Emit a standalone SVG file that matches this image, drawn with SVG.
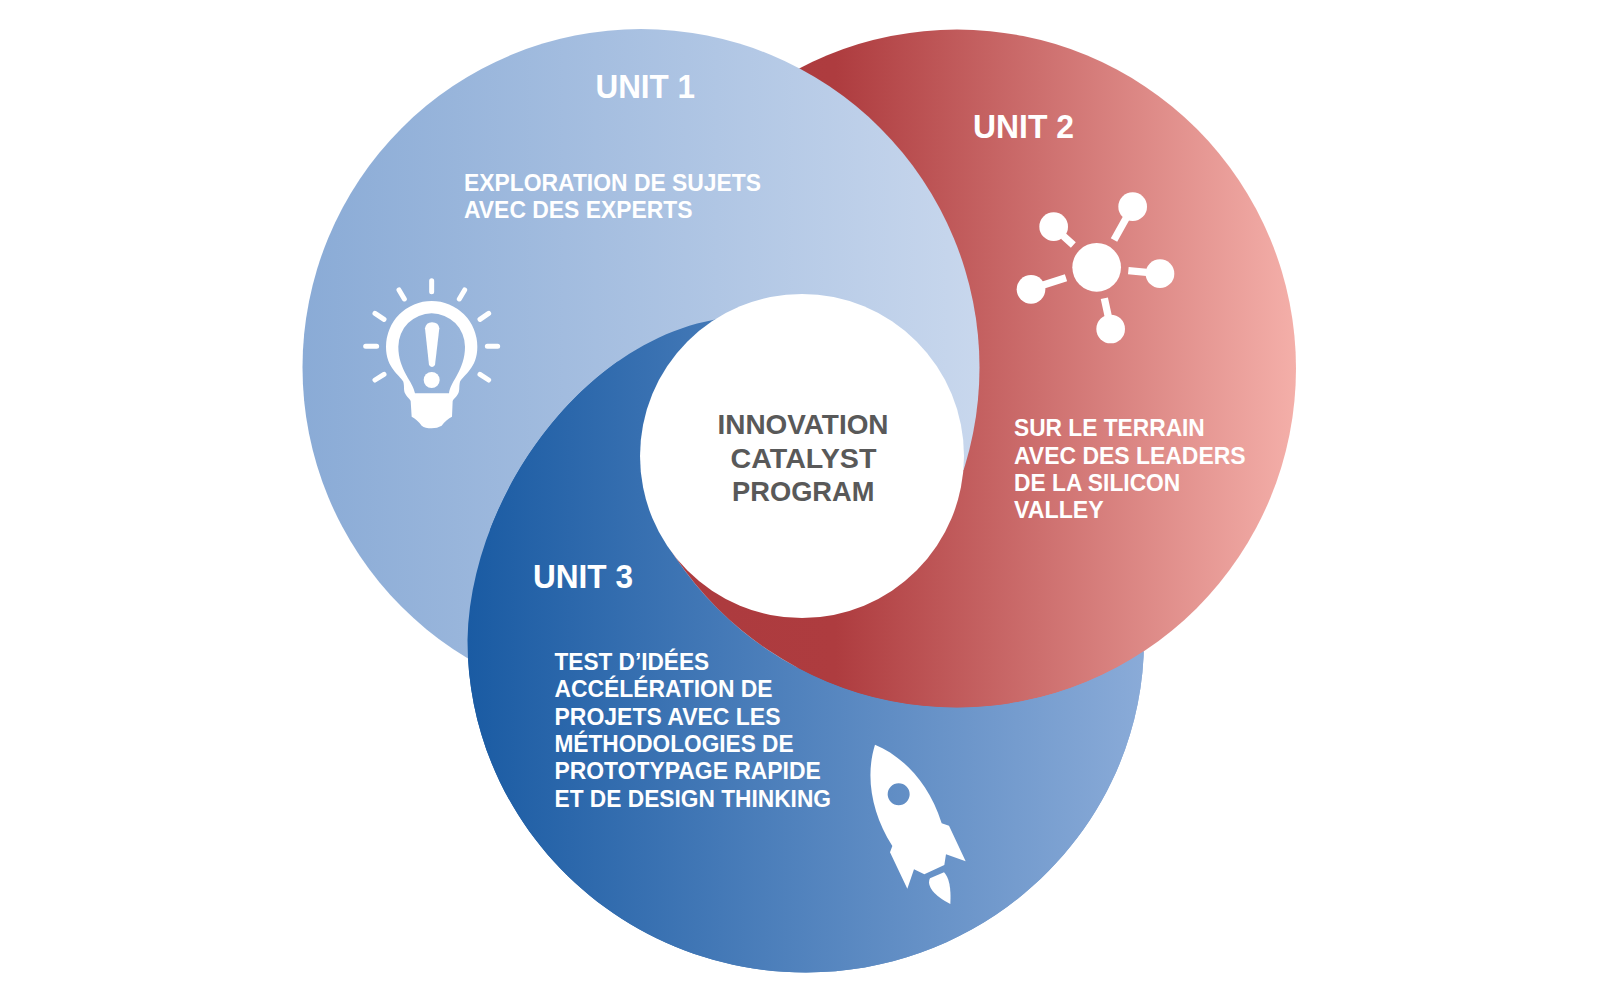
<svg xmlns="http://www.w3.org/2000/svg" width="1600" height="1000" viewBox="0 0 1600 1000">
<style>
text{font-family:"Liberation Sans",Arial,sans-serif;font-weight:700;fill:#fff}
.h{font-size:32.4px}
.b{font-size:23.6px}
.c{font-size:28.3px;fill:#595959}
.ic{fill:#fff}
.ray{stroke:#fff;stroke-width:15;stroke-linecap:round;fill:none}
.lnk{stroke:#fff;stroke-width:22;fill:none}
</style>
<defs>
<linearGradient id="g1" x1="0" x2="1" y1="0" y2="0"><stop offset="0" stop-color="#8aabd6"/><stop offset="1" stop-color="#c8d7ed"/></linearGradient>
<linearGradient id="g2" x1="0" x2="1" y1="0" y2="0"><stop offset="0" stop-color="#ac3a3e"/><stop offset="0.32" stop-color="#ae3c3f"/><stop offset="1" stop-color="#f4afa9"/></linearGradient>
<linearGradient id="g3" x1="0" x2="1" y1="0" y2="0"><stop offset="0" stop-color="#1a5ba3"/><stop offset="1" stop-color="#8aabd8"/></linearGradient>
<circle id="c1" cx="641" cy="367.5" r="338.5" fill="url(#g1)"/>
<circle id="c2" cx="957" cy="368.5" r="339" fill="url(#g2)"/>
<path id="c3" fill="url(#g3)" d="M467.5 640C470 500 580 345 713 320C740 312 775 305 806 305C990 305 1144 460 1144 640C1144 823 992 972.5 806 972.5C619 972.5 467.5 823 467.5 640Z"/>
<clipPath id="outside2"><path clip-rule="evenodd" d="M0 0H1600V1000H0ZM618 368.5a339 339 0 1 0 678 0a339 339 0 1 0 -678 0Z"/></clipPath>
<clipPath id="leftpart"><rect x="0" y="0" width="802" height="530"/></clipPath>
<clipPath id="over2"><path d="M600 530H802V470H1010V730H600Z"/></clipPath>
</defs>
<g id="discs">
<use id="disc3" href="#c3"/>
<use id="disc2" href="#c2"/>
<use id="disc1" href="#c1"/>
<use id="disc3-over" href="#c3" clip-path="url(#outside2)"/>
<use id="disc3-left" href="#c3" clip-path="url(#leftpart)"/>
<use id="disc2-over" href="#c2" clip-path="url(#over2)"/>
</g>
<g id="center">
<circle cx="802" cy="456" r="162" fill="#fff"/>
<text class="c" x="717.5" y="434" textLength="171" lengthAdjust="spacingAndGlyphs">INNOVATION</text>
<text class="c" x="730.5" y="468" textLength="146" lengthAdjust="spacingAndGlyphs">CATALYST</text>
<text class="c" x="732" y="501" textLength="142.5" lengthAdjust="spacingAndGlyphs">PROGRAM</text>
</g>
<g id="unit1">
<text class="h" x="595.5" y="97.5" textLength="99.5" lengthAdjust="spacingAndGlyphs">UNIT 1</text>
<text class="b" x="464" y="191" textLength="297" lengthAdjust="spacingAndGlyphs">EXPLORATION DE SUJETS</text>
<text class="b" x="464" y="218" textLength="228.6" lengthAdjust="spacingAndGlyphs">AVEC DES EXPERTS</text>
<g transform="translate(350 265) scale(.33333)">
<path class="ray" d="M245 47V80M147 75L163 102M75 145L102 163M47 244H80M75 345L102 328M344 75L328 102M416 145L390 163M443 244H412M416 345L390 328"/>
<path class="ic" fill-rule="evenodd" d="M160 350C150 330 108 310 108 245A137 137 0 0 1 382 245C382 310 340 330 330 350C326 368 330 372 325 385C318 398 312 400 308 408L306 455Q290 462 275 482Q262 490 245 490Q225 490 215 482Q200 462 185 455L182 408C178 400 172 398 165 385C160 372 164 368 160 350ZM195 385C190 350 145 315 145 245A100 100 0 0 1 345 245C345 315 300 350 297 385Z"/>
<path class="ic" d="M225 190Q228 172 246 172Q266 172 268 190L255 300Q246 312 237 300Z"/>
<circle class="ic" cx="245" cy="345" r="24"/>
</g>
</g>
<g id="unit2">
<text class="h" x="973" y="138" textLength="101" lengthAdjust="spacingAndGlyphs">UNIT 2</text>
<text class="b" x="1014" y="436.3" textLength="190.8" lengthAdjust="spacingAndGlyphs">SUR LE TERRAIN</text>
<text class="b" x="1014" y="463.6" textLength="231.6" lengthAdjust="spacingAndGlyphs">AVEC DES LEADERS</text>
<text class="b" x="1014" y="491" textLength="166.3" lengthAdjust="spacingAndGlyphs">DE LA SILICON</text>
<text class="b" x="1014" y="518.3" textLength="89.8" lengthAdjust="spacingAndGlyphs">VALLEY</text>
<g transform="translate(1000 180) scale(.33333)">
<path class="lnk" d="M342 180L380 112M220 195L190 168M198 293L130 315M313 355L325 410M385 272L440 277"/>
<circle class="ic" cx="290" cy="262" r="73"/>
<circle class="ic" cx="398" cy="80" r="43"/>
<circle class="ic" cx="161" cy="140" r="43"/>
<circle class="ic" cx="93" cy="328" r="43"/>
<circle class="ic" cx="332" cy="447" r="43"/>
<circle class="ic" cx="480" cy="281" r="43"/>
</g>
</g>
<g id="unit3">
<text class="h" x="533" y="587.5" textLength="100" lengthAdjust="spacingAndGlyphs">UNIT 3</text>
<text class="b" x="554.5" y="670" textLength="154.6" lengthAdjust="spacingAndGlyphs">TEST D’IDÉES</text>
<text class="b" x="554.5" y="697.4" textLength="218" lengthAdjust="spacingAndGlyphs">ACCÉLÉRATION DE</text>
<text class="b" x="554.5" y="724.7" textLength="226" lengthAdjust="spacingAndGlyphs">PROJETS AVEC LES</text>
<text class="b" x="554.5" y="752" textLength="239" lengthAdjust="spacingAndGlyphs">MÉTHODOLOGIES DE</text>
<text class="b" x="554.5" y="779.3" textLength="266.3" lengthAdjust="spacingAndGlyphs">PROTOTYPAGE RAPIDE</text>
<text class="b" x="554.5" y="806.7" textLength="276.5" lengthAdjust="spacingAndGlyphs">ET DE DESIGN THINKING</text>
<g transform="translate(850 730) scale(.33333)">
<path class="ic" fill-rule="evenodd" d="M75 44C150 75 235 150 275 280L297 287L347 394L288 373L283 405L223 433L192 418L172 476L120 367L127 348C65 250 45 140 75 44ZM113 193a33 33 0 1 0 66 0a33 33 0 1 0 -66 0Z"/>
<path class="ic" d="M240 445L282 427Q305 450 301 522Q240 490 237 458Q237 450 240 445Z"/>
</g>
</g>
</svg>
